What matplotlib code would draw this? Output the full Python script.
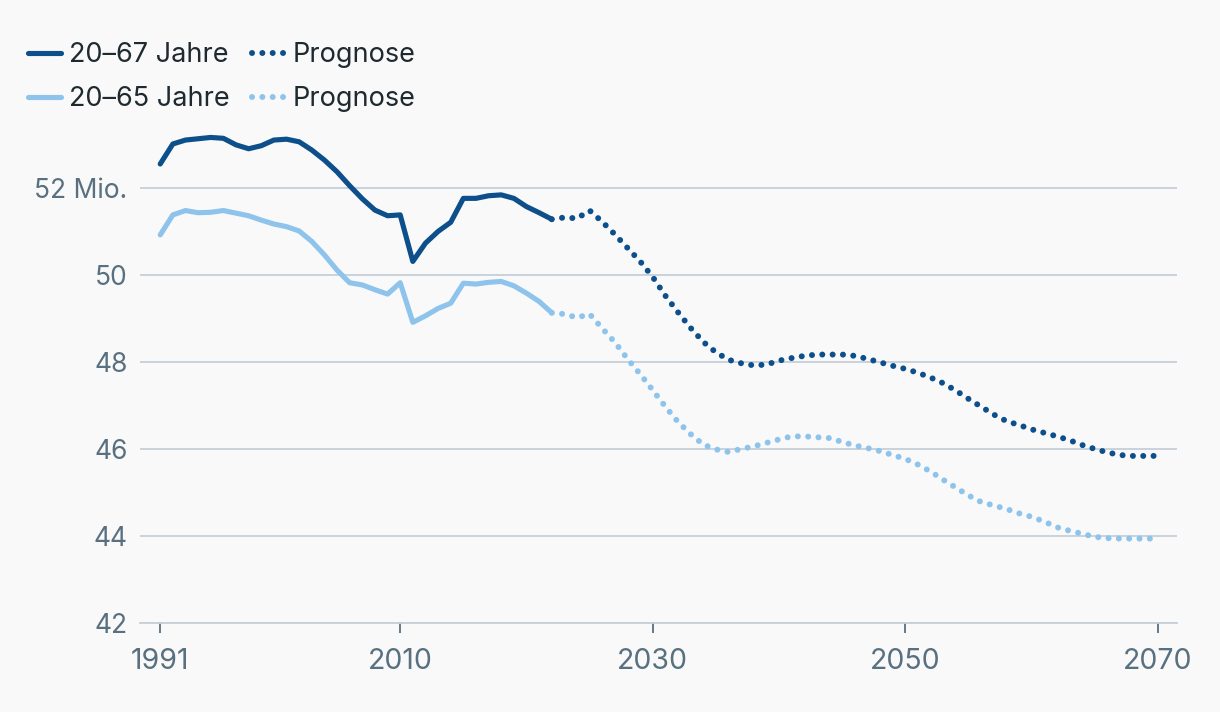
import matplotlib
matplotlib.use("Agg")
import matplotlib.pyplot as plt
from matplotlib.lines import Line2D

plt.rcParams['font.family'] = ['Inter', 'DejaVu Sans']

DARK = '#0d4f8b'
LIGHT = '#8ec4ec'
GRID = '#c5d0d8'
TICK = '#587080'
BG = '#f9f9f9'

# historical data 1991-2022 (Mio.)
hist_years = list(range(1991, 2023))
hist_67 = [52.55, 53.01, 53.10, 53.13, 53.16, 53.14, 52.99, 52.90, 52.97, 53.10,
           53.12, 53.06, 52.87, 52.64, 52.37, 52.05, 51.75, 51.49, 51.36, 51.38,
           50.31, 50.73, 51.00, 51.21, 51.76, 51.76, 51.82, 51.84, 51.76, 51.57,
           51.43, 51.28]
hist_65 = [50.92, 51.38, 51.48, 51.43, 51.44, 51.48, 51.42, 51.36, 51.26, 51.17,
           51.11, 51.01, 50.77, 50.46, 50.11, 49.82, 49.77, 49.66, 49.56, 49.82,
           48.91, 49.06, 49.23, 49.35, 49.81, 49.79, 49.83, 49.85, 49.75, 49.58,
           49.39, 49.13]

# forecast 2022-2070
prog_years = list(range(2022, 2071))
prog_67 = [51.28, 51.32, 51.30, 51.48, 51.22, 50.93, 50.62, 50.31, 49.95, 49.52,
           49.14, 48.78, 48.46, 48.22, 48.05, 47.97, 47.92, 47.94, 48.03, 48.09,
           48.14, 48.17, 48.17, 48.17, 48.14, 48.07, 47.99, 47.91, 47.84, 47.75,
           47.64, 47.51, 47.34, 47.15, 46.97, 46.79, 46.64, 46.55, 46.45, 46.37,
           46.29, 46.20, 46.09, 46.00, 45.92, 45.86, 45.84, 45.84, 45.84]
prog_65 = [49.13, 49.10, 49.02, 49.10, 48.77, 48.45, 48.07, 47.72, 47.35, 46.97,
           46.62, 46.34, 46.10, 45.99, 45.93, 46.00, 46.06, 46.14, 46.22, 46.29,
           46.29, 46.27, 46.25, 46.16, 46.08, 46.02, 45.95, 45.86, 45.77, 45.64,
           45.48, 45.29, 45.11, 44.93, 44.78, 44.70, 44.62, 44.52, 44.44, 44.33,
           44.20, 44.12, 44.05, 43.98, 43.95, 43.94, 43.94, 43.94, 43.94]

y_ticks = [42, 44, 46, 48, 50, 52]
y_labels = ['42', '44', '46', '48', '50', '52 Mio.']
x_ticks = [1991, 2010, 2030, 2050, 2070]

fig = plt.figure(figsize=(12.2, 7.12), dpi=100, facecolor=BG)
ax = fig.add_axes([140/1220, 89/712, 1037/1220, 496/712])
ax.set_facecolor(BG)

solid = dict(lw=3.7, solid_capstyle='round', solid_joinstyle='round')
dotted = dict(lw=4.3, linestyle=(0, (0.01, 1.72)), dash_capstyle='round')

ax.plot(hist_years, hist_67, color=DARK, zorder=3, **solid)
ax.plot(prog_years, prog_67, color=DARK, zorder=3, **dotted)
ax.plot(hist_years, hist_65, color=LIGHT, zorder=3, **solid)
ax.plot(prog_years, prog_65, color=LIGHT, zorder=3, **dotted)

ax.set_xlim(1989.4, 2071.5)
ax.set_ylim(42, 53.4)
ax.set_yticks(y_ticks)
ax.set_yticklabels(y_labels)
ax.set_xticks(x_ticks)

ax.grid(axis='y', color=GRID, lw=1.3)
ax.grid(axis='x', visible=False)
for s in ['top', 'right', 'left']:
    ax.spines[s].set_visible(False)
ax.spines['bottom'].set_color(GRID)
ax.spines['bottom'].set_linewidth(1.3)
ax.tick_params(axis='y', length=0, pad=9, labelsize=19, labelcolor=TICK)
ax.tick_params(axis='x', length=7, width=1.3, color=TICK, pad=11,
               labelsize=20.5, labelcolor=TICK)

handles = [
    Line2D([], [], color=DARK, **solid),
    Line2D([], [], color=LIGHT, **solid),
    Line2D([], [], color=DARK, **dotted),
    Line2D([], [], color=LIGHT, **dotted),
]
labels = ['20\u201367 Jahre', '20\u201365 Jahre', 'Prognose', 'Prognose']
leg = fig.legend(handles, labels, ncol=2, loc='upper left',
                 bbox_to_anchor=(28/1220, 1 - 42/712), frameon=False,
                 fontsize=19.5, handlelength=1.2, handletextpad=0.3,
                 columnspacing=0.85, labelspacing=0.68, borderaxespad=0,
                 borderpad=0)
for t in leg.get_texts():
    t.set_color('#1f2a30')

fig.savefig('out.png', dpi=100, facecolor=BG)
